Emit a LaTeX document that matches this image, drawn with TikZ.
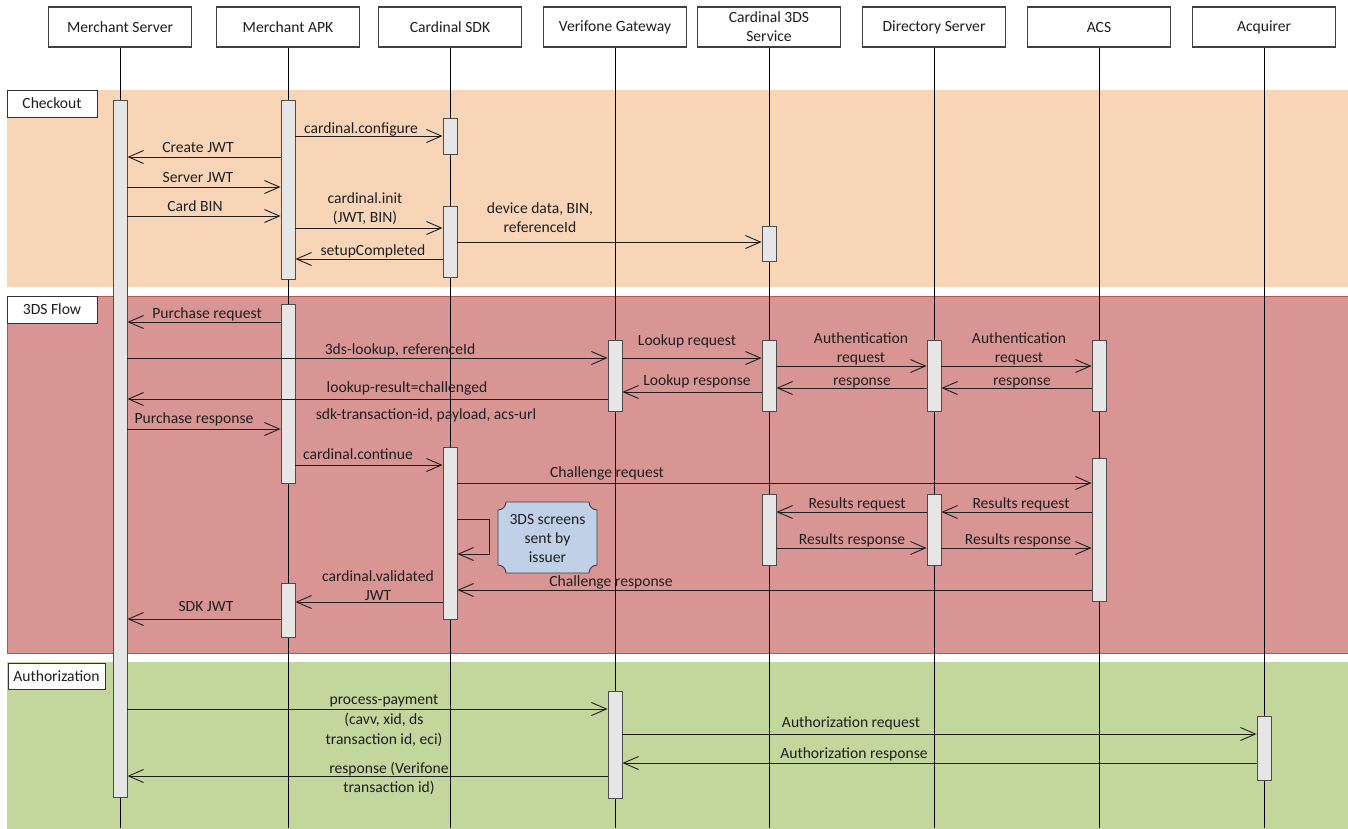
\documentclass[tikz,border=0pt]{standalone}
\usepackage{fontspec}
\setmainfont{Carlito}
\usetikzlibrary{arrows.meta,calc}
\definecolor{peach}{HTML}{F9D5B8}
\definecolor{rose}{HTML}{D99594}
\definecolor{roseline}{HTML}{B65552}
\definecolor{olive}{HTML}{C3D69B}
\definecolor{barfill}{HTML}{E6E6E6}
\definecolor{ink}{HTML}{1E1E1E}
\definecolor{notefill}{HTML}{C0D0E6}
\newcommand\dgfont{\fontsize{15.6}{19}\selectfont}
\tikzset{
  hdr/.style={draw=black!75, line width=1.1pt, fill=white, minimum width=143pt, minimum height=40pt, inner sep=0pt, align=center, font=\dgfont, text=ink},
  life/.style={draw=black, line width=0.9pt},
  bar/.style={draw=black!70, fill=barfill, line width=0.9pt, minimum width=14pt, inner sep=0pt},
  msg/.style={draw=ink, line width=0.9pt, -{Straight Barb[length=15pt,width=13pt]}},
  lab/.style={font=\dgfont, text=ink, inner sep=0pt, anchor=center, text height=11pt, text depth=3.5pt, yshift=-1.5pt},
  mlab/.style={font=\dgfont, text=ink, inner sep=0pt, anchor=center, align=center, yshift=-0.5pt},
  phase/.style={draw=black!80, fill=white, line width=1pt, font=\dgfont, text=ink, inner sep=0pt}
}
\begin{document}
\begin{tikzpicture}[x=1pt,y=-1pt]
\useasboundingbox (0,0) rectangle (1348,828);
% bands
\fill[peach] (7,90) rectangle (1348,287);
\filldraw[fill=rose, draw=roseline, line width=0.8pt] (7,296) rectangle (1350,653);
\fill[olive] (7,662) rectangle (1348,830);
\node[phase, minimum width=90pt, minimum height=27pt] (pcheck) at (52,103.5) {Checkout};
\node[phase, minimum width=90pt, minimum height=27pt] (pflow) at (52,309.5) {3DS Flow};
\node[phase, minimum width=97pt, minimum height=26pt] (pauth) at (56.5,676) {Authorization};
% headers
\node[hdr] (hms) at (120,27) {Merchant Server};
\node[hdr] (hapk) at (288,27) {Merchant APK};
\node[hdr] (hsdk) at (450,27) {Cardinal SDK};
\node[hdr] (hvg) at (615,27) {Verifone Gateway};
\node[hdr] (hc3) at (769,27) {Cardinal 3DS\\Service};
\node[hdr] (hds) at (934,27) {Directory Server};
\node[hdr] (hacs) at (1099,27) {ACS};
\node[hdr] (hacq) at (1264,27) {Acquirer};
\foreach \n in {hms,hapk,hsdk,hvg,hc3,hds,hacs,hacq}
  \draw[life] (\n.south) -- (\n.south |- 0,828);
% activation bars
\node[bar, minimum height=697pt] (msb) at (120,448.5) {};
\node[bar, minimum height=179pt] (apk1) at (288,189.5) {};
\node[bar, minimum height=179pt] (apk2) at (288,393.5) {};
\node[bar, minimum height=54pt] (apk3) at (288,610) {};
\node[bar, minimum height=36pt] (sdk1) at (450,136) {};
\node[bar, minimum height=71pt] (sdk2) at (450,241.5) {};
\node[bar, minimum height=172pt] (sdk3) at (450,533) {};
\node[bar, minimum height=35pt] (c3a) at (769,243.5) {};
\node[bar, minimum height=71pt] (vg1) at (615,375.5) {};
\node[bar, minimum height=71pt] (c3b) at (769,375.5) {};
\node[bar, minimum height=71pt] (c3c) at (769,529.5) {};
\node[bar, minimum height=71pt] (ds1) at (934,375.5) {};
\node[bar, minimum height=71pt] (ds2) at (934,529.5) {};
\node[bar, minimum height=71pt] (acs1) at (1099,375.5) {};
\node[bar, minimum height=143pt] (acs2) at (1099,529.5) {};
\node[bar, minimum height=107pt] (vg2) at (615,744.5) {};
\node[bar, minimum height=64pt] (acq) at (1264,748) {};
% Checkout messages
\draw[msg] (apk1.east |- 0,136) -- (sdk1.west |- 0,136);
\draw[msg] (apk1.west |- 0,157) -- (msb.east |- 0,157);
\draw[msg] (msb.east |- 0,187) -- (apk1.west |- 0,187);
\draw[msg] (msb.east |- 0,216) -- (apk1.west |- 0,216);
\draw[msg] (apk1.east |- 0,228) -- (sdk2.west |- 0,228);
\draw[msg] (sdk2.west |- 0,259) -- (apk1.east |- 0,259);
\draw[msg] (sdk2.east |- 0,242) -- (c3a.west |- 0,242);
\node[lab] (l1) at (361,128) {cardinal.configure};
\node[lab] (l2) at (198,147) {Create JWT};
\node[lab] (l3) at (198,177) {Server JWT};
\node[lab] (l4) at (195,206) {Card BIN};
\node[mlab] (l5) at (365,208) {cardinal.init\\(JWT, BIN)};
\node[lab] (l6) at (373,250) {setupCompleted};
\node[mlab] (l7) at (540,217) {device data, BIN,\\referenceId};
% 3DS flow messages
\draw[msg] (apk2.west |- 0,322) -- (msb.east |- 0,322);
\draw[msg] (msb.east |- 0,358) -- (vg1.west |- 0,358);
\draw[msg] (vg1.east |- 0,358) -- (c3b.west |- 0,358);
\draw[msg] (c3b.east |- 0,366) -- (ds1.west |- 0,366);
\draw[msg] (ds1.east |- 0,366) -- (acs1.west |- 0,366);
\draw[msg] (ds1.west |- 0,388) -- (c3b.east |- 0,388);
\draw[msg] (acs1.west |- 0,388) -- (ds1.east |- 0,388);
\draw[msg] (c3b.west |- 0,392) -- (vg1.east |- 0,392);
\draw[msg] (vg1.west |- 0,399) -- (msb.east |- 0,399);
\draw[msg] (msb.east |- 0,429) -- (apk2.west |- 0,429);
\draw[msg] (apk2.east |- 0,465) -- (sdk3.west |- 0,465);
\draw[msg] (sdk3.east |- 0,483) -- (acs2.west |- 0,483);
\draw[msg] (acs2.west |- 0,512) -- (ds2.east |- 0,512);
\draw[msg] (ds2.west |- 0,512) -- (c3c.east |- 0,512);
\draw[msg] (c3c.east |- 0,548) -- (ds2.west |- 0,548);
\draw[msg] (ds2.east |- 0,548) -- (acs2.west |- 0,548);
\draw[msg] (sdk3.east |- 0,519) -- (489,519) -- (489,554) -- (sdk3.east |- 0,554);
\draw[msg] (acs2.west |- 0,590) -- (sdk3.east |- 0,590);
\draw[msg] (sdk3.west |- 0,602) -- (apk3.east |- 0,602);
\draw[msg] (apk3.west |- 0,619) -- (msb.east |- 0,619);
\node[lab] (m1) at (207,313) {Purchase request};
\node[lab] (m2) at (400,349) {3ds-lookup, referenceId};
\node[lab] (m3) at (687,340) {Lookup request};
\node[mlab] (m4) at (861,348) {Authentication\\request};
\node[mlab] (m5) at (1019,348) {Authentication\\request};
\node[lab] (m6) at (697,380) {Lookup response};
\node[lab] (m7) at (862,380) {response};
\node[lab] (m8) at (1022,380) {response};
\node[lab] (m9) at (407,387) {lookup-result=challenged};
\node[lab] (m10) at (426,414) {sdk-transaction-id, payload, acs-url};
\node[lab] (m11) at (194,418) {Purchase response};
\node[lab] (m12) at (358,454) {cardinal.continue};
\node[lab] (m13) at (607,472) {Challenge request};
\node[lab] (m14) at (857,503) {Results request};
\node[lab] (m15) at (1021,503) {Results request};
\node[lab] (m16) at (852,539) {Results response};
\node[lab] (m17) at (1018,539) {Results response};
\node[lab] (m18) at (611,581) {Challenge response};
\node[mlab] (m19) at (378,585) {cardinal.validated\\JWT};
\node[lab] (m20) at (206,606) {SDK JWT};
% note
\filldraw[fill=notefill, draw=black!75, line width=0.9pt]
  (506,502) -- (589,502) .. controls (589,506.4) and (592.6,510) .. (597,510)
  -- (597,565) .. controls (592.6,565) and (589,568.6) .. (589,573)
  -- (506,573) .. controls (506,568.6) and (502.4,565) .. (498,565)
  -- (498,510) .. controls (502.4,510) and (506,506.4) .. (506,502) -- cycle;
\node[mlab] (note) at (547.5,538) {3DS screens\\sent by\\issuer};
% Authorization messages
\draw[msg] (msb.east |- 0,709) -- (vg2.west |- 0,709);
\draw[msg] (vg2.east |- 0,734) -- (acq.west |- 0,734);
\draw[msg] (acq.west |- 0,763) -- (vg2.east |- 0,763);
\draw[msg] (vg2.west |- 0,776) -- (msb.east |- 0,776);
\node[mlab] (a1) at (384,720) {process-payment\\[1pt](cavv, xid, ds\\[1pt]transaction id, eci)};
\node[lab] (a2) at (851,722) {Authorization request};
\node[lab] (a3) at (854,753) {Authorization response};
\node[mlab] (a4) at (389,778) {response (Verifone\\transaction id)};
\end{tikzpicture}
\end{document}
